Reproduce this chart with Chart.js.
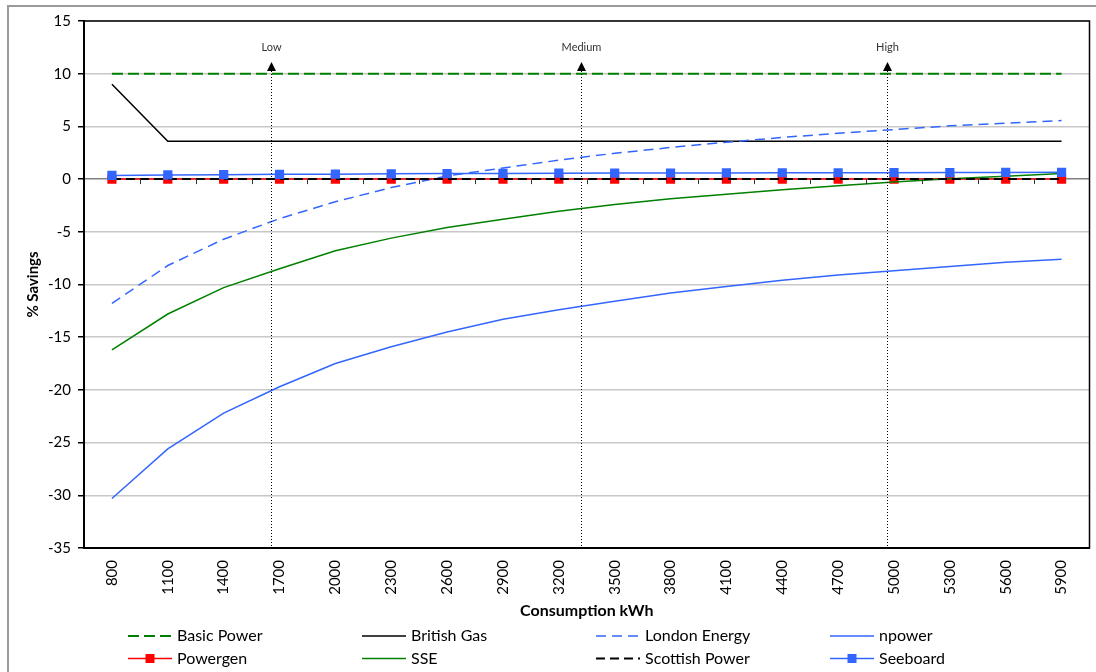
<!DOCTYPE html>
<html lang="en">
<head>
<meta charset="UTF-8">
<title>% Savings by consumption</title>
<style>
  body { margin: 0; background: #fff; }
  #wrap { width: 1096px; height: 672px; position: relative; }
</style>
</head>
<body>
<div id="wrap">
  <canvas id="savingsChart" width="1096" height="672"></canvas>
</div>

<script src="https://cdn.jsdelivr.net/npm/chart.js@4/dist/chart.umd.min.js"></script>
<script>
  // consumption bands (kWh) on the x axis
  const consumption = [800, 1100, 1400, 1700, 2000, 2300, 2600, 2900, 3200, 3500, 3800, 4100, 4400, 4700, 5000, 5300, 5600, 5900];

  // % savings per supplier
  const basicPower    = [10, 10, 10, 10, 10, 10, 10, 10, 10, 10, 10, 10, 10, 10, 10, 10, 10, 10];
  const britishGas    = [9, 3.6, 3.6, 3.6, 3.6, 3.6, 3.6, 3.6, 3.6, 3.6, 3.6, 3.6, 3.6, 3.6, 3.6, 3.6, 3.6, 3.6];
  const londonEnergy  = [-11.8, -8.2, -5.7, -3.75, -2.15, -0.8, 0.3, 1.05, 1.8, 2.45, 3.0, 3.5, 3.95, 4.35, 4.7, 5.05, 5.3, 5.55];
  const npower        = [-30.3, -25.6, -22.2, -19.7, -17.5, -15.9, -14.5, -13.3, -12.4, -11.6, -10.8, -10.2, -9.6, -9.1, -8.7, -8.3, -7.9, -7.6];
  const powergen      = [0, 0, 0, 0, 0, 0, 0, 0, 0, 0, 0, 0, 0, 0, 0, 0, 0, 0];
  const sse           = [-16.2, -12.8, -10.3, -8.5, -6.8, -5.6, -4.6, -3.8, -3.05, -2.4, -1.87, -1.43, -1.0, -0.63, -0.27, 0.03, 0.28, 0.54];
  const scottishPower = [0, 0, 0, 0, 0, 0, 0, 0, 0, 0, 0, 0, 0, 0, 0, 0, 0, 0];
  const seeboard      = [0.35, 0.4, 0.42, 0.45, 0.47, 0.5, 0.52, 0.54, 0.56, 0.57, 0.58, 0.59, 0.6, 0.6, 0.61, 0.62, 0.63, 0.64];

  const yTicks = [-35, -30, -25, -20, -15, -10, -5, 0, 5, 10, 15];

  // typical consumption markers
  const bandNames = ['Low', 'Medium', 'High'];
  const bandKwh   = [1655, 3320, 4965];

  const blue = '#3366FF';
  const green = '#008000';

  function series(label, data, color, extra) {
    return Object.assign({
      label: label,
      data: data,
      borderColor: color,
      backgroundColor: color,
      borderWidth: 1.5,
      pointRadius: 0,
      pointHoverRadius: 0,
      tension: 0
    }, extra || {});
  }

  const datasets = [
    series('Basic Power', basicPower, green, { borderWidth: 2, borderDash: [11, 5] }),
    series('British Gas', britishGas, '#000000'),
    series('London Energy', londonEnergy, blue, { borderDash: [10, 6] }),
    series('npower', npower, blue),
    series('Powergen', powergen, '#FF0000', { pointStyle: 'rect', pointRadius: 6.5, pointBorderWidth: 0 }),
    series('SSE', sse, green),
    series('Scottish Power', scottishPower, '#000000', { borderWidth: 2, borderDash: [9, 5] }),
    series('Seeboard', seeboard, blue, { pointStyle: 'rect', pointRadius: 6.5, pointBorderWidth: 0 })
  ];
  // later series are drawn on top, like the original
  datasets.forEach((d, i) => { d.order = datasets.length - i; });

  const decorations = {
    id: 'decorations',
    beforeDraw(chart) {
      const ctx = chart.ctx;
      ctx.save();
      ctx.strokeStyle = '#9a9a9a';
      ctx.lineWidth = 2;
      ctx.strokeRect(8, 6, 1200, 800);
      ctx.restore();
    },
    afterDatasetsDraw(chart) {
      const ctx = chart.ctx;
      const x = chart.scales.x;
      const y = chart.scales.y;
      const area = chart.chartArea;
      const step = consumption[1] - consumption[0];
      ctx.save();

      // small ticks on the zero line between categories
      const y0 = y.getPixelForValue(0);
      ctx.strokeStyle = '#333';
      ctx.lineWidth = 1;
      for (let i = 0; i < consumption.length - 1; i++) {
        const px = Math.round(x.getPixelForValue(i + 0.5)) + 0.5;
        ctx.beginPath();
        ctx.moveTo(px, y0);
        ctx.lineTo(px, y0 + 5);
        ctx.stroke();
      }

      // Low / Medium / High markers
      bandKwh.forEach((kwh, i) => {
        const px = Math.round(x.getPixelForValue((kwh - consumption[0]) / step)) + 0.5;
        ctx.strokeStyle = '#000';
        ctx.lineWidth = 1;
        ctx.setLineDash([1, 2]);
        ctx.beginPath();
        ctx.moveTo(px, 71);
        ctx.lineTo(px, area.bottom);
        ctx.stroke();
        ctx.setLineDash([]);
        ctx.fillStyle = '#000';
        ctx.beginPath();
        ctx.moveTo(px, 62);
        ctx.lineTo(px - 4.5, 71);
        ctx.lineTo(px + 4.5, 71);
        ctx.closePath();
        ctx.fill();
        ctx.fillStyle = '#333';
        ctx.font = '11px Lato';
        ctx.textAlign = 'center';
        ctx.textBaseline = 'middle';
        ctx.fillText(bandNames[i], px, 47);
      });

      // plot area frame
      ctx.strokeStyle = '#000';
      ctx.lineWidth = 1.5;
      ctx.strokeRect(area.left, area.top, area.right - area.left, area.bottom - area.top);
      ctx.restore();
    },
    afterDraw(chart) {
      // legend laid out in four fixed columns, two rows
      const ctx = chart.ctx;
      ctx.save();
      ctx.font = '16px Lato';
      ctx.textBaseline = 'middle';
      ctx.textAlign = 'left';
      chart.data.datasets.forEach((d, i) => {
        const col = i % 4;
        const row = Math.floor(i / 4);
        const x0 = 128 + col * 234;
        const yy = 636 + row * 22.5;
        ctx.strokeStyle = d.borderColor;
        ctx.lineWidth = d.borderWidth;
        ctx.setLineDash(d.borderDash || []);
        ctx.beginPath();
        ctx.moveTo(x0, yy);
        ctx.lineTo(x0 + 44, yy);
        ctx.stroke();
        ctx.setLineDash([]);
        if (d.pointRadius) {
          ctx.fillStyle = d.borderColor;
          ctx.fillRect(x0 + 22 - 4.5, yy - 4.5, 9, 9);
        }
        ctx.fillStyle = '#000';
        ctx.fillText(d.label, x0 + 49, yy);
      });
      ctx.restore();
    }
  };

  Chart.defaults.font.family = 'Lato';
  Chart.defaults.color = '#000';

  new Chart(document.getElementById('savingsChart'), {
    type: 'line',
    data: { labels: consumption.map(String), datasets: datasets },
    options: {
      responsive: false,
      animation: false,
      layout: { padding: { top: 21, right: 3, left: 0, bottom: 52 } },
      plugins: { legend: { display: false }, tooltip: { enabled: false } },
      scales: {
        x: {
          offset: true,
          grid: { display: false, drawTicks: false },
          border: { color: '#000', width: 2 },
          ticks: { minRotation: 90, maxRotation: 90, padding: 12, font: { size: 15 }, autoSkip: false },
          title: { display: true, text: 'Consumption kWh', font: { size: 16, weight: 'bold' }, padding: { top: 0, bottom: 0 } },
          afterFit(scale) { scale.height = 72; }
        },
        y: {
          min: -35,
          max: 15,
          afterBuildTicks(scale) { scale.ticks = yTicks.map(v => ({ value: v })); },
          grid: {
            color: ctx => ctx.tick && ctx.tick.value === 0 ? '#808080' : '#c8c8c8',
            lineWidth: 1.5,
            tickColor: '#000',
            tickLength: 6
          },
          border: { color: '#000', width: 2 },
          ticks: { font: { size: 15 }, padding: 7 },
          title: { display: true, text: '% Savings', font: { size: 15, weight: 'bold' }, padding: { top: 24, bottom: 0 } },
          afterFit(scale) { scale.width = 84; }
        }
      }
    },
    plugins: [decorations]
  });
</script>
</body>
</html>
